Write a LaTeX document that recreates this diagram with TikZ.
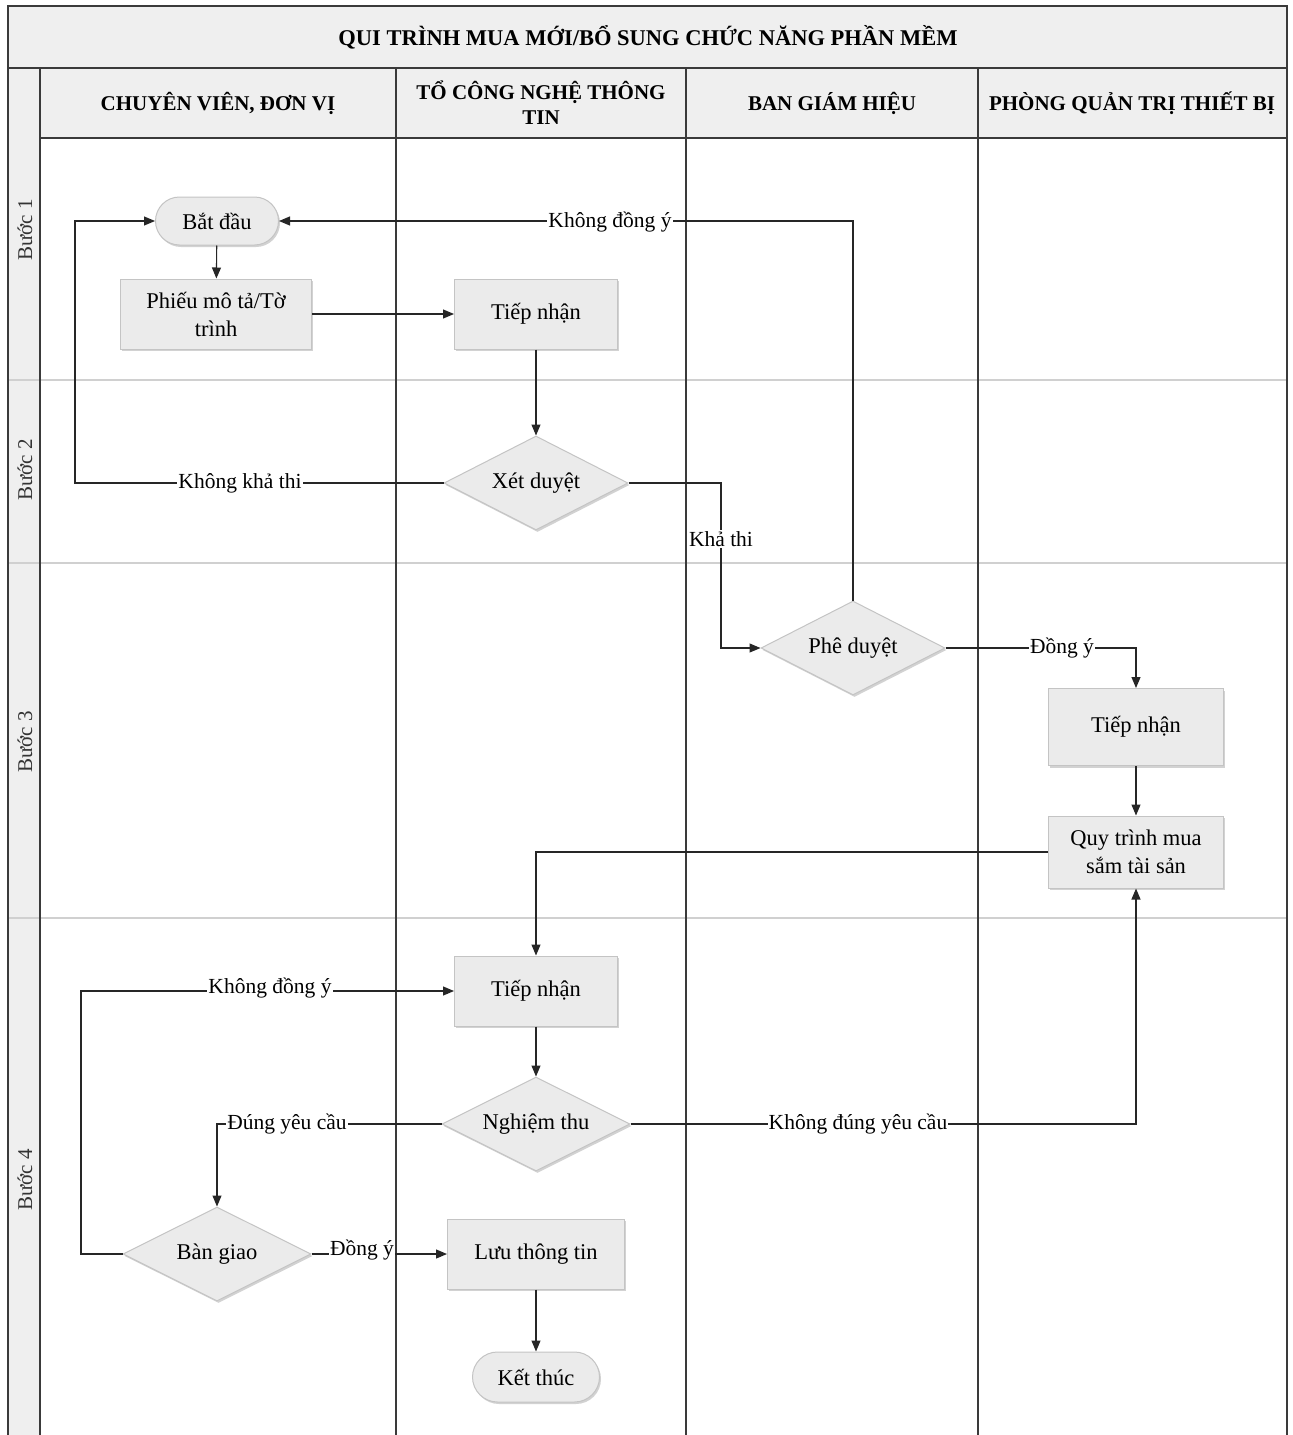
\documentclass[tikz,border=0pt]{standalone}
\usepackage{fontspec}
\setmainfont{Liberation Serif}
\usetikzlibrary{shapes.geometric,shadows,arrows.meta}
\definecolor{linec}{HTML}{3A3A3A}
\definecolor{nodefill}{HTML}{EBEBEB}
\definecolor{nodeborder}{HTML}{C4C4C4}
\definecolor{bandfill}{HTML}{EFEFEF}
\definecolor{rowline}{HTML}{D0D0D0}
\tikzset{
 base/.style={draw=nodeborder, fill=nodefill, line width=1pt, font=\fontsize{22.5}{28}\selectfont, text=black, drop shadow={shadow xshift=1.5pt, shadow yshift=-2pt, opacity=0.35, fill=gray}, align=center},
 proc/.style={base, rectangle, minimum width=163, minimum height=70, inner sep=2pt},
 term/.style={base, rectangle, rounded corners=24pt, minimum height=48, minimum width=123},
 dec/.style={base, diamond, aspect=2, minimum width=184, minimum height=94, inner sep=0pt},
 flow/.style={draw=black!85, line width=1.1pt, -{Triangle[length=11pt,width=9pt]}},
 lbl/.style={fill=white, inner sep=1pt, font=\fontsize{21.5}{24}\selectfont},
 hdr/.style={font=\bfseries\fontsize{21}{25}\selectfont, align=center},
 steplbl/.style={font=\fontsize{21}{24}\selectfont, rotate=90, text=black!80},
 frame/.style={draw=linec, line width=1.4pt},
 rowsep/.style={draw=rowline, line width=1.4pt},
}
\begin{document}
\begin{tikzpicture}[x=1pt,y=-1pt]
\useasboundingbox[fill=white] (0,0) rectangle (1293,1435);
% bands
\fill[bandfill] (8,6) rectangle (1287,68);
\fill[bandfill] (8,68) rectangle (1287,138);
\fill[bandfill] (8,138) rectangle (40,1435);
% row separators
\foreach \yy in {380,563,918} \draw[rowsep] (8,\yy) -- (1287,\yy);
% frame lines
\draw[frame] (8,1435) -- (8,6) -- (1287,6) -- (1287,1435);
\draw[frame] (8,68) -- (1287,68);
\draw[frame] (40,138) -- (1287,138);
\foreach \xx in {40,396,686,978} \draw[frame] (\xx,68) -- (\xx,1435);
% title and headers
\node[hdr, font=\bfseries\fontsize{22.5}{26}\selectfont] (title) at (648,37) {QUI TRÌNH MUA MỚI/BỔ SUNG CHỨC NĂNG PHẦN MỀM};
\node[hdr] (h1) at (218,103) {CHUYÊN VIÊN, ĐƠN VỊ};
\node[hdr] (h2) at (541,103) {TỔ CÔNG NGHỆ THÔNG\\TIN};
\node[hdr] (h3) at (832,103) {BAN GIÁM HIỆU};
\node[hdr] (h4) at (1132,103) {PHÒNG QUẢN TRỊ THIẾT BỊ};
\node[steplbl] (s1) at (25,230) {Bước 1};
\node[steplbl] (s2) at (25,470) {Bước 2};
\node[steplbl] (s3) at (25,742) {Bước 3};
\node[steplbl] (s4) at (25,1180) {Bước 4};
% nodes
\node[term] (bat) at (217,221) {Bắt đầu};
\node[proc, minimum width=191] (phieu) at (216,314) {Phiếu mô tả/Tờ\\trình};
\node[proc] (tn1) at (536,314) {Tiếp nhận};
\node[dec] (xet) at (536,483) {Xét duyệt};
\node[dec] (phe) at (853,648) {Phê duyệt};
\node[proc, minimum width=175, minimum height=77] (tn2) at (1136,727) {Tiếp nhận};
\node[proc, minimum width=175, minimum height=72] (qt) at (1136,852) {Quy trình mua\\sắm tài sản};
\node[proc] (tn3) at (536,991) {Tiếp nhận};
\node[dec, minimum width=188] (nghiem) at (536,1124) {Nghiệm thu};
\node[dec, minimum width=188] (ban) at (217,1254) {Bàn giao};
\node[proc, minimum width=177] (luu) at (536,1254) {Lưu thông tin};
\node[term, minimum width=127, minimum height=50, rounded corners=25pt] (ket) at (536,1377) {Kết thúc};
% connectors
\draw[flow] (bat) -- (phieu);
\draw[flow] (phieu) -- (tn1);
\draw[flow] (tn1) -- (xet);
\draw[flow] (xet.west) -- (75,483) -- (75,221) -- (bat.west);
\draw[flow] (xet.east) -- (721,483) |- (phe.west);
\draw[flow] (phe.north) |- (bat.east);
\draw[flow] (phe.east) -| (tn2.north);
\draw[flow] (tn2) -- (qt);
\draw[flow] (qt.west) -| (tn3.north);
\draw[flow] (tn3) -- (nghiem);
\draw[flow] (nghiem.west) -| (ban.north);
\draw[flow] (nghiem.east) -| (qt.south);
\draw[flow] (ban.west) -- (81,1254) |- (tn3.west);
\draw[flow] (ban.east) -- (luu.west);
\draw[flow] (luu) -- (ket);
% labels
\node[lbl] (l1) at (240,483) {Không khả thi};
\node[lbl] (l2) at (721,539) {Khả thi};
\node[lbl] (l3) at (610,222) {Không đồng ý};
\node[lbl] (l4) at (1062,648) {Đồng ý};
\node[lbl] (l5) at (287,1124) {Đúng yêu cầu};
\node[lbl] (l6) at (858,1124) {Không đúng yêu cầu};
\node[lbl] (l7) at (270,988) {Không đồng ý};
\node[lbl] (l8) at (362,1250) {Đồng ý};
\end{tikzpicture}
\end{document}
